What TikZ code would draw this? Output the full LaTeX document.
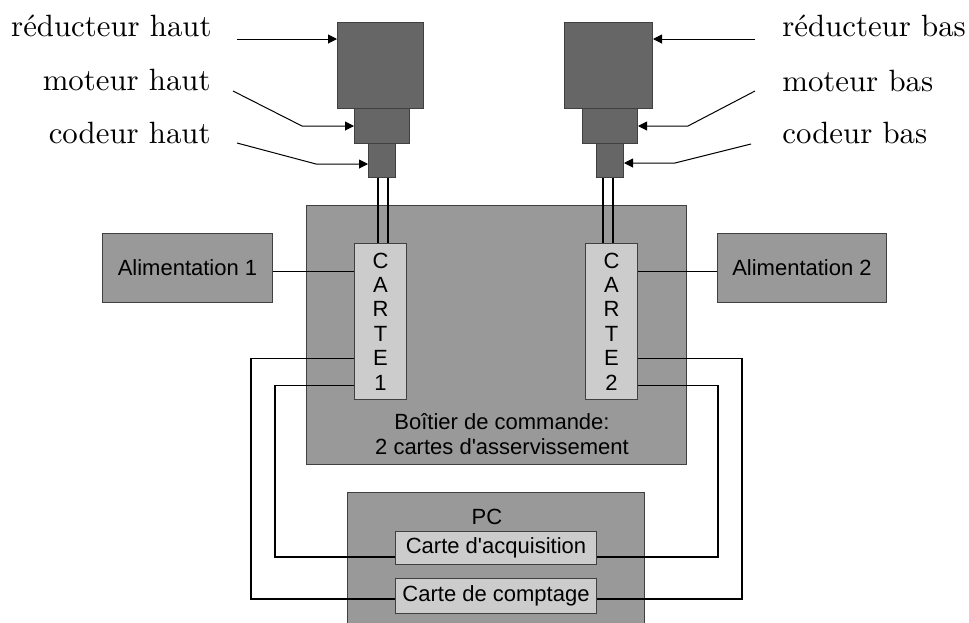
\documentclass[tikz,border=0pt]{standalone}
\usepackage{fontspec}
\newfontfamily\arialf{Liberation Sans}
\newfontfamily\lmtenf{lmroman10-regular}[Extension=.otf]
\usetikzlibrary{arrows.meta,calc}
\definecolor{darkbox}{HTML}{666666}
\definecolor{midbox}{HTML}{999999}
\definecolor{lightbox}{HTML}{CCCCCC}
\definecolor{border}{HTML}{404040}
\tikzset{
  boxbase/.style={draw=border, line width=0.5pt, inner sep=0pt, anchor=north west, rectangle},
  darkb/.style={boxbase, fill=darkbox},
  midb/.style={boxbase, fill=midbox, font=\arialf\fontsize{11}{12.5}\selectfont, text=black},
  lightb/.style={boxbase, fill=lightbox, font=\arialf\fontsize{11}{12.2}\selectfont, text=black},
  lbl/.style={font=\lmtenf\fontsize{15.4}{18}\selectfont, inner sep=0pt},
  sanslbl/.style={font=\arialf\fontsize{11}{12.5}\selectfont, inner sep=0pt, align=center},
  arr/.style={line width=0.5pt, -{Triangle[length=4.5pt,width=4.5pt]}},
  wire/.style={line width=0.8pt}
}
\begin{document}
\begin{tikzpicture}[x=0.5pt,y=-0.5pt]
\clip (0,0) rectangle (969,622);
\fill[white] (0,0) rectangle (969,622);
% motors
\node[darkb, minimum width=43pt, minimum height=43pt] (redH) at (337,22) {};
\node[darkb, minimum width=27.5pt, minimum height=17.5pt] (motH) at (354,108) {};
\node[darkb, minimum width=13.5pt, minimum height=17pt] (codH) at (368,143) {};
\node[darkb, minimum width=44pt, minimum height=43pt] (redB) at (564,22) {};
\node[darkb, minimum width=27.5pt, minimum height=17.5pt] (motB) at (582,108) {};
\node[darkb, minimum width=13.5pt, minimum height=17pt] (codB) at (596,143) {};
% boitier
\node[midb, minimum width=190pt, minimum height=129.5pt] (boit) at (306,205) {};
\node[sanslbl] (boittxt) at (502,434.5) {Boîtier de commande:\\2 cartes d'asservissement};
% alimentations
\node[midb, minimum width=85pt, minimum height=34.5pt] (alim1) at (102,233) {Alimentation 1};
\node[midb, minimum width=84.5pt, minimum height=34.5pt] (alim2) at (717,233) {Alimentation 2};
% cards
\node[lightb, minimum width=26pt, minimum height=78pt, align=center] (card1) at (354,243) {C\\A\\R\\T\\E\\1};
\node[lightb, minimum width=26pt, minimum height=78pt, align=center] (card2) at (585,243) {C\\A\\R\\T\\E\\2};
% PC
\node[midb, minimum width=148.5pt, minimum height=80pt] (pc) at (347,492) {};
\node[sanslbl] (pctxt) at (487,517) {PC};
\node[lightb, minimum width=100.5pt, minimum height=16.5pt] (acq) at (395,531) {Carte d'acquisition};
\node[lightb, minimum width=100.5pt, minimum height=17.5pt] (comp) at (395,578) {Carte de comptage};
% wires codeur -> card
\coordinate (w1) at (378,0); \coordinate (w2) at (388,0);
\coordinate (w3) at (603,0); \coordinate (w4) at (613,0);
\draw[line width=0.6pt] (codH.south -| w1) -- (card1.north -| w1);
\draw[line width=0.6pt] (codH.south -| w2) -- (card1.north -| w2);
\draw[line width=0.6pt] (codB.south -| w3) -- (card2.north -| w3);
\draw[line width=0.6pt] (codB.south -| w4) -- (card2.north -| w4);
% alim connections
\coordinate (c1a) at ([yshift=25pt]card1.west);
\coordinate (c2a) at ([yshift=25pt]card2.east);
\draw[wire] (alim1.east |- c1a) -- (c1a);
\draw[wire] (alim2.west |- c2a) -- (c2a);
% loops
\draw[wire] ([yshift=-18.5pt]card1.west) -- ++(-103,0) |- ([yshift=-1.6pt]comp.west);
\draw[wire] ([yshift=-32pt]card1.west) -- ++(-79,0) |- ([yshift=-4.6pt]acq.west);
\draw[wire] ([yshift=-18.5pt]card2.east) -- ++(104,0) |- ([yshift=-1.6pt]comp.east);
\draw[wire] ([yshift=-32pt]card2.east) -- ++(80,0) |- ([yshift=-4.6pt]acq.east);
% labels
\node[lbl, anchor=base east] (lRH) at (212,36) {réducteur haut};
\node[lbl, anchor=base east] (lMH) at (211,90.5) {moteur haut};
\node[lbl, anchor=base east] (lCH) at (211,143) {codeur haut};
\node[lbl, anchor=base west] (lRB) at (782,36) {réducteur bas};
\node[lbl, anchor=base west] (lMB) at (782,91) {moteur bas};
\node[lbl, anchor=base west] (lCB) at (782,143) {codeur bas};
% arrows
\coordinate (aRH) at (237,39);
\coordinate (aMH) at (233,91); \coordinate (bMH) at (302,126);
\coordinate (aCH) at (237,143); \coordinate (bCH) at (316,164);
\coordinate (aRB) at (755,39);
\coordinate (aMB) at (755,91); \coordinate (bMB) at (688,126);
\coordinate (aCB) at (751,144); \coordinate (bCB) at (675,163);
\draw[arr] (aRH) -- (aRH -| redH.west);
\draw[arr] (aMH) -- (bMH) -- (bMH -| motH.west);
\draw[arr] (aCH) -- (bCH) -- (bCH -| codH.west);
\draw[arr] (aRB) -- (aRB -| redB.east);
\draw[arr] (aMB) -- (bMB) -- (bMB -| motB.east);
\draw[arr] (aCB) -- (bCB) -- (bCB -| codB.east);
\end{tikzpicture}
\end{document}
